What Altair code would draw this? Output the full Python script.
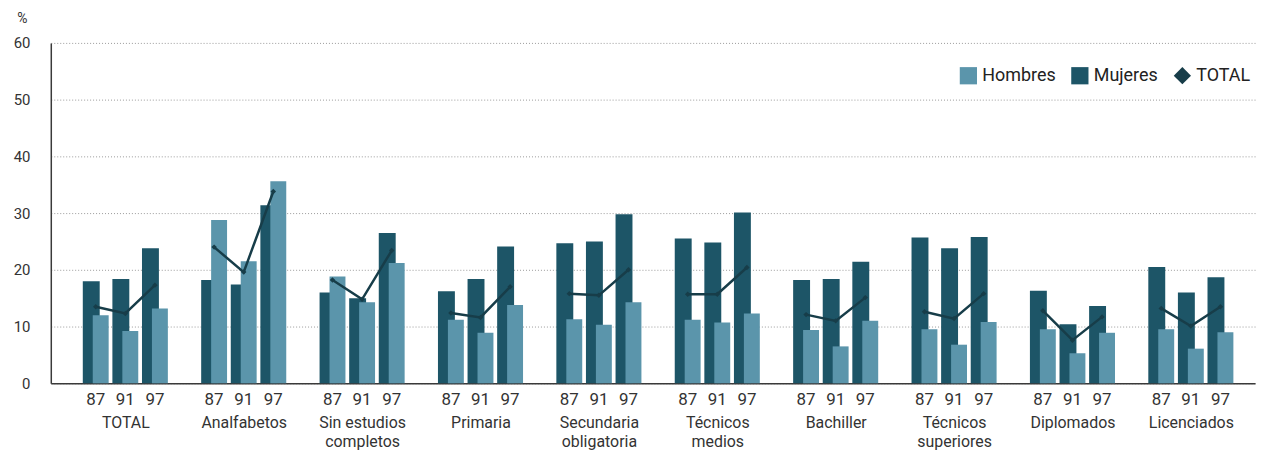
import json
import altair as alt
import pandas as pd

categories = ["TOTAL", "Analfabetos", "Sin estudios\ncompletos", "Primaria",
              "Secundaria\nobligatoria", "Técnicos\nmedios", "Bachiller",
              "Técnicos\nsuperiores", "Diplomados", "Licenciados"]
years = ["87", "91", "97"]
series = ["Hombres", "Mujeres", "TOTAL"]

mujeres = [[18.0, 18.4, 23.8], [18.2, 17.4, 31.4], [16.0, 15.0, 26.5], [16.2, 18.4, 24.1],
           [24.7, 25.0, 29.8], [25.5, 24.8, 30.1], [18.2, 18.4, 21.4], [25.7, 23.8, 25.8],
           [16.3, 10.4, 13.6], [20.5, 16.0, 18.7]]
hombres = [[12.0, 9.2, 13.2], [28.8, 21.5, 35.6], [18.8, 14.3, 21.2], [11.2, 8.9, 13.8],
           [11.3, 10.3, 14.3], [11.2, 10.7, 12.3], [9.4, 6.5, 11.0], [9.5, 6.8, 10.8],
           [9.5, 5.3, 8.9], [9.5, 6.1, 9.0]]
total = [[13.5, 12.3, 17.3], [24.0, 19.6, 33.8], [18.2, 14.8, 23.4], [12.4, 11.6, 17.0],
         [15.8, 15.5, 20.0], [15.7, 15.7, 20.4], [12.1, 11.0, 15.1], [12.6, 11.4, 15.8],
         [12.8, 7.6, 11.7], [13.2, 10.1, 13.5]]

# slot index: each group takes 3 year slots plus a 1-slot gap
SLOTS_PER_GROUP = len(years) + 1

rows = []
for ci, cat in enumerate(categories):
    for yi, yr in enumerate(years):
        slot = ci * SLOTS_PER_GROUP + yi
        rows.append({"cat": cat, "year": yr, "slot": slot, "serie": "Hombres", "value": hombres[ci][yi]})
        rows.append({"cat": cat, "year": yr, "slot": slot, "serie": "Mujeres", "value": mujeres[ci][yi]})
        rows.append({"cat": cat, "year": yr, "slot": slot, "serie": "TOTAL", "value": total[ci][yi]})
df = pd.DataFrame(rows)

LIGHT = "#5b95ab"
DARK = "#1d5567"
LINE = "#173d49"
TXT = "#333333"
FONT = "Roboto"

W, H = 1210, 342

group_centers = [ci * SLOTS_PER_GROUP + 1 for ci in range(len(categories))]
cat_js = json.dumps(categories, ensure_ascii=False)

x = alt.X("slot:Q", scale=alt.Scale(domain=[-1.35, 39.0], nice=False, zero=False),
          axis=alt.Axis(title=None, values=group_centers, labelAngle=0,
                        ticks=False, tickSize=0, grid=False,
                        labelExpr=f"split({cat_js}[round((datum.value - 1) / {SLOTS_PER_GROUP})], '\\n')",
                        labelPadding=31, labelBaseline="top", labelLineHeight=20,
                        labelFont=FONT, labelFontSize=16, labelColor=TXT,
                        labelOverlap=False, labelBound=False, labelFlush=False,
                        domainColor="#3a3a3a", domainWidth=1.5))
y = alt.Y("value:Q", scale=alt.Scale(domain=[0, 60], nice=False),
          axis=alt.Axis(title="%", titleAngle=0, titleX=-29, titleY=-24,
                        titleAlign="center", titleBaseline="middle",
                        titleFont=FONT, titleFontSize=14, titleColor=TXT,
                        titleFontWeight="normal",
                        values=[0, 10, 20, 30, 40, 50, 60], ticks=False, tickSize=0,
                        labelPadding=21, labelFont=FONT, labelFontSize=15,
                        labelColor=TXT, domainColor="#3a3a3a", domainWidth=1.5,
                        grid=True, gridColor="#9a9a9a", gridDash=[1, 2],
                        gridWidth=1))
leg = alt.Legend(title=None, orient="none", legendX=913, legendY=24,
                 direction="horizontal", labelFont=FONT,
                 labelFontSize=18, labelColor="#222222",
                 symbolSize=300, symbolStrokeWidth=0,
                 labelOffset=5, columnPadding=15)
color = alt.Color("serie:N",
                  scale=alt.Scale(domain=series, range=[LIGHT, DARK, LINE]),
                  legend=leg)
shape = alt.Shape("serie:N",
                  scale=alt.Scale(domain=series, range=["square", "square", "diamond"]),
                  legend=leg)

base = alt.Chart(df)

muj = base.transform_filter("datum.serie == 'Mujeres'").mark_bar(
    width=17, xOffset=-4.5).encode(x=x, y=y, color=color)
hom = base.transform_filter("datum.serie == 'Hombres'").mark_bar(
    width=16, xOffset=5).encode(x=x, y=y, color=color)
line = base.transform_filter("datum.serie == 'TOTAL'").mark_line(
    color=LINE, strokeWidth=2.5).encode(x=x, y=y, detail="cat:N",
                                       order=alt.Order("slot:Q"))
pts = base.transform_filter("datum.serie == 'TOTAL'").mark_point(
    filled=True, size=30, opacity=1).encode(x=x, y=y, color=color, shape=shape)
yrs = base.transform_filter("datum.serie == 'TOTAL'").mark_text(
    font=FONT, fontSize=17, color=TXT, baseline="alphabetic").encode(
    x=x, y=alt.value(H + 22), text="year:N")

chart = alt.layer(muj, hom, line, pts, yrs).properties(
    width=W, height=H,
    autosize=alt.AutoSizeParams(type="none"),
    padding={"left": 43, "top": 34, "right": 4, "bottom": 68},
).configure_view(stroke=None)

chart.save("out.html", embed_options={"renderer": "svg", "actions": False})
